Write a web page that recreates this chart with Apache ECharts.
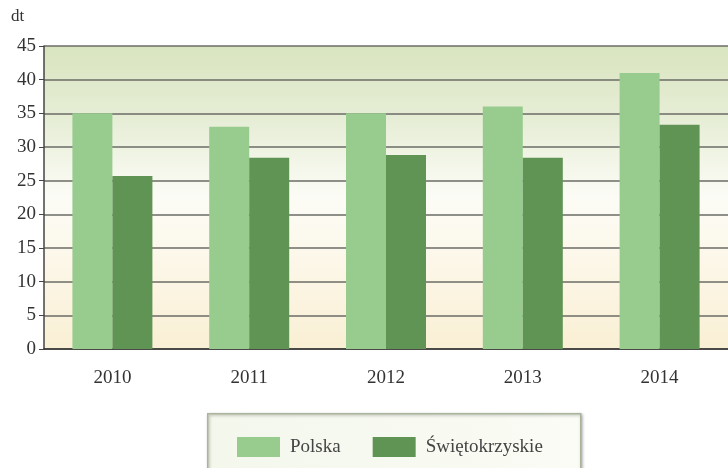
<!DOCTYPE html>
<html><head><meta charset="utf-8">
<script src="https://cdn.jsdelivr.net/npm/echarts@6/dist/echarts.min.js"></script>
<style>html,body{margin:0;padding:0;background:#fff}#c{width:728px;height:468px}</style>
</head><body><div id="c"></div>
<script>
const categories = ['2010','2011','2012','2013','2014'];
const polska = [35, 33, 35, 36, 41];
const swietokrzyskie = [25.7, 28.4, 28.8, 28.4, 33.3];
const yTicks = {min: 0, max: 45, interval: 5};
const unit = 'dt';

const font = '"Liberation Serif","DejaVu Serif",serif';
const chart = echarts.init(document.getElementById('c'));
chart.setOption({
  animation: false,
  backgroundColor: '#ffffff',
  grid: {
    left: 44, top: 46, width: 691, height: 303,
    show: true, borderWidth: 0,
    backgroundColor: new echarts.graphic.LinearGradient(0, 0, 0, 1, [
      {offset: 0, color: '#d9e4bf'},
      {offset: 0.25, color: '#e7eed7'},
      {offset: 0.5, color: '#fcfcf6'},
      {offset: 0.75, color: '#fcf6e6'},
      {offset: 1, color: '#f9efd4'}
    ])
  },
  graphic: [
    {type: 'rect', left: 207, top: 413, shape: {width: 373, height: 70},
     style: {fill: new echarts.graphic.LinearGradient(0,0,1,0,[{offset:0,color:'#f4f7ec'},{offset:1,color:'#fafcf5'}]),
             stroke: '#a9b49a', lineWidth: 1.5, shadowColor: 'rgba(0,0,0,0.3)', shadowBlur: 3, shadowOffsetX: 1, shadowOffsetY: 1}, z: 0},
    {type: 'text', left: 11, top: 8, style: {text: unit, font: '17px ' + font, fill: '#333'}}
  ],
  legend: {
    left: 232, top: 432,
    itemWidth: 43, itemHeight: 20, itemGap: 32,
    icon: 'rect',
    textStyle: {fontFamily: font, fontSize: 19, color: '#444', padding: [0, 0, 0, 5]},
    data: ['Polska', 'Świętokrzyskie'],
    z: 5
  },
  xAxis: {
    type: 'category', data: categories,
    axisLine: {lineStyle: {color: '#333', width: 1.5}},
    axisTick: {show: false},
    axisLabel: {fontFamily: font, fontSize: 19, color: '#333', margin: 20}
  },
  yAxis: {
    type: 'value', min: yTicks.min, max: yTicks.max, interval: yTicks.interval,
    axisLine: {show: true, lineStyle: {color: '#444', width: 1.5}},
    axisTick: {show: true, inside: false, length: 5, lineStyle: {color: '#444'}},
    axisLabel: {fontFamily: font, fontSize: 19, color: '#333', margin: 8},
    splitLine: {lineStyle: {color: '#6b6b66', width: 1.5}}
  },
  series: [
    {name: 'Polska', type: 'bar', data: polska, barWidth: 40, barGap: '0%',
     itemStyle: {color: '#98cc8f'}},
    {name: 'Świętokrzyskie', type: 'bar', data: swietokrzyskie, barWidth: 40,
     itemStyle: {color: '#5f9454'}}
  ]
});
</script></body></html>
